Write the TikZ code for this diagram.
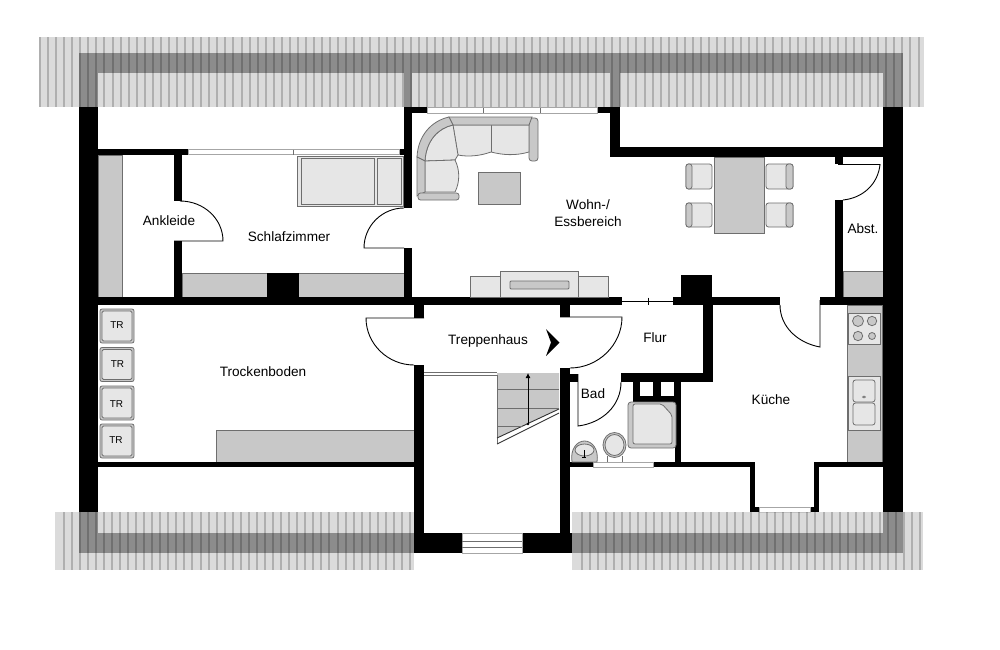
\documentclass[tikz,border=0pt]{standalone}
\usepackage{fontspec}
\setmainfont{Liberation Sans}
\usetikzlibrary{arrows.meta}
\definecolor{cab}{HTML}{C8C8C8}
\definecolor{lite}{HTML}{E6E6E6}
\definecolor{edge}{HTML}{6E6E6E}
\newcommand{\wl}[4]{\fill[black] (#1,#2) rectangle (#3,#4);}
\newcommand{\fur}[4]{\draw[furn] (#1,#2) rectangle (#3,#4);}
\newcommand{\lig}[4]{\draw[furnl] (#1,#2) rectangle (#3,#4);}
\newcommand{\win}[4]{\draw[winbox] (#1,#2) rectangle (#3,#4);}
\newcommand{\roofband}[6]{%
  \fill[roofbase] (#1,#2) rectangle (#3,#4);
  \foreach \sx in {#5,#6,...,#3} {\fill[roofstripe] (\sx-1,#2) rectangle (\sx+1,#4);}}
\tikzset{
  furn/.style={draw=edge,fill=cab,line width=0.8pt},
  furnl/.style={draw=edge,fill=lite,line width=0.8pt},
  winbox/.style={draw=gray!70,fill=white,line width=0.7pt},
  doorline/.style={draw=black,line width=0.9pt},
  thinline/.style={draw=edge,line width=0.8pt},
  roofbase/.style={fill={rgb,1:red,0.8;green,0.8;blue,0.8},fill opacity=0.69},
  roofstripe/.style={fill=black,fill opacity=0.2},
  lab/.style={font=\fontsize{13.6}{16.5}\selectfont,inner sep=0pt,align=center,text=black},
  trlab/.style={font=\fontsize{10}{12}\selectfont,inner sep=0pt,text=black}
}
\begin{document}
\begin{tikzpicture}[x=1pt,y=-1pt]
\useasboundingbox (0,0) rectangle (1000,649);
\fill[white] (0,0) rectangle (1000,649);

% --- fittings under the walls
\fur{98}{155}{122.5}{297}
\fur{182}{273}{404}{297}
\fur{843}{271}{883}{297}
\fur{216}{430}{414}{462}
\fur{847}{305}{882}{462}

% --- walls
\wl{79}{53}{903}{73}
\wl{79}{53}{98}{553}
\wl{883}{53}{903}{553}
\wl{79}{533}{462}{553}
\wl{522}{533}{903}{553}
\wl{404}{73}{412}{208}
\wl{404}{248}{412}{297}
\wl{412}{107}{427}{113}
\wl{597}{107}{610}{113}
\wl{610}{73}{620}{157}
\wl{610}{147}{883}{157}
\wl{98}{149}{188}{155}
\wl{399}{149}{404}{155}
\wl{98}{297}{622}{305}
\wl{673}{297}{780}{305}
\wl{820}{297}{883}{305}
\wl{681}{275}{712}{297}
\wl{267}{273}{299}{297}
\wl{174}{155}{182}{201}
\wl{174}{241}{182}{297}
\wl{834.5}{157}{843}{164}
\wl{834.5}{200}{843}{297}
\wl{414}{305}{424}{318}
\wl{414}{365}{424}{533}
\wl{560}{305}{570}{317}
\wl{560}{368}{570}{533}
\wl{570}{374}{578}{382}
\wl{621}{373}{713}{382}
\wl{703}{305}{713}{373}
\wl{633}{382}{640}{402}
\wl{653}{382}{661}{396}
\wl{633}{396}{680.5}{402}
\wl{674}{382}{680.5}{402}
\wl{675}{402}{680.5}{467}
\wl{570}{462}{593}{467}
\wl{653}{462}{755}{467}
\wl{750}{467}{755}{512}
\wl{814}{462}{819}{512}
\wl{750}{507}{759}{512}
\wl{810}{507}{819}{512}
\wl{814}{462}{883}{467}
\wl{98}{462}{414}{467}

% --- windows
\win{188}{149.5}{399}{154.5}
\draw[thinline] (293,149.5) -- (293,154.5);
\win{427}{107.5}{597}{113}
\draw[thinline] (483,107.5) -- (483,113) (540,107.5) -- (540,113);
\win{593}{462.5}{653}{467}
\win{759}{507.5}{810}{512}
\win{462}{533.5}{522}{553}
\draw[thinline] (462,541.5) -- (522,541.5) (462,547) -- (522,547);
\draw[line width=0.9pt] (622,301) -- (673,301) (648,297.5) -- (648,304.5);

% --- doors
\draw[doorline] (174,241) -- (223,241) .. controls (223,219) and (204,201) .. (180,201);
\draw[doorline] (404,248) -- (364,248) .. controls (364,226) and (382,208) .. (404,208);
\draw[doorline] (424,318) -- (366,318) .. controls (366,344) and (388,365) .. (414,365);
\draw[doorline] (560,317) -- (622,317) .. controls (622,345) and (598,368) .. (570,368);
\draw[doorline] (578,374) -- (578,426) .. controls (602,423) and (621,406) .. (621,382);
\draw[doorline] (820,300) -- (820,347) .. controls (798,343) and (780,327) .. (780,305);
\draw[doorline] (838,164.5) -- (880,164.5) .. controls (878,184) and (863,198) .. (843,200);

% --- sofa
\draw[furn,rounded corners=3pt] (529,118) -- (538,118) -- (538,161) -- (529,161) -- cycle;
\draw[furnl] (453,125) -- (529,125) -- (529,152) .. controls (515,156) and (503,155) .. (491,152) .. controls (480,156) and (468,157) .. (458,155) -- cycle;
\draw[thinline] (491,125) -- (491,152);
\draw[furnl] (425,161) .. controls (426,141) and (438,128) .. (453,125) -- (458,155) -- (455,160) -- cycle;
\draw[furnl] (425,161) -- (455,160) .. controls (460,170) and (460,182) .. (455,192) -- (425,192) -- cycle;
\draw[furn] (449,117) -- (532,117) -- (529,125) -- (453,125) -- cycle;
\draw[furn] (449,117) .. controls (431,121) and (418,136) .. (417,157) -- (425,161) .. controls (426,141) and (438,128) .. (453,125) -- cycle;
\draw[furn] (417,157) -- (425,161) -- (425,192) -- (417,196) -- cycle;
\draw[furn,rounded corners=2.5pt] (418,193) rectangle (459,200);
\fur{478}{172}{520}{204}

% --- TV unit
\lig{470}{276}{500}{297}
\lig{578}{276}{608}{297}
\lig{500}{271}{578}{297}
\draw[furn,rounded corners=1pt] (510,281) rectangle (569,289);

% --- dining table
\newcommand{\chairL}[2]{%
  \draw[furnl,rounded corners=2.5pt] (686,#1) rectangle (712,#2);
  \draw[furn,rounded corners=2.5pt] (692,#1) -- (686,#1) -- (686,#2) -- (692,#2) -- cycle;
  \draw[furnl,rounded corners=2.5pt] (766,#1) rectangle (793,#2);
  \draw[furn,rounded corners=2.5pt] (786,#1) -- (793,#1) -- (793,#2) -- (786,#2) -- cycle;}
\chairL{164}{189}
\chairL{203}{227}
\fur{714}{157}{764}{233}

% --- bed
\draw[furnl] (297,156) rectangle (403,206);
\draw[furnl] (301,158) rectangle (374,204);
\draw[furnl] (377,158) rectangle (401,204);

% --- dryers
\foreach \ty/\nm in {309/a,347.5/b,386/c,424/d}{
  \draw[furn,rounded corners=2pt] (100,\ty) rectangle (134,\ty+34);
  \draw[furnl,rounded corners=1.5pt] (102,\ty+2) rectangle (132,\ty+32);
}
\node[trlab] (tr1) at (117,325) {TR};
\node[trlab] (tr2) at (117.5,364) {TR};
\node[trlab] (tr3) at (116.5,404) {TR};
\node[trlab] (tr4) at (116,440) {TR};

% --- kitchen
\draw[furnl,line width=0.6pt] (848,313) rectangle (880,344);
\draw[furn] (858,321) circle (5.5);
\draw[furn] (872,321) circle (4.7);
\draw[furn] (858,336) circle (4.7);
\draw[furn] (872,336) circle (3.5);
\draw[furnl,line width=0.6pt] (848,376) rectangle (880,430);
\draw[furnl,rounded corners=2.5pt] (853,380) rectangle (875,402);
\draw[furnl,rounded corners=2.5pt] (853,403) rectangle (875,425);
\draw[furn,line width=0.6pt] (864,397) ellipse (1.6 and 1);

% --- stairs
\fill[cab] (497,373) -- (559,373) -- (559,409) -- (497,438) -- cycle;
\draw[thinline] (497,375) -- (497,444);
\draw[line width=0.9pt,draw=black!80] (497,438) -- (559,409) (497,444) -- (559,413);
\draw[thinline] (497,389.5) -- (559,389.5) (497,408) -- (559,408) (497,426) -- (522,426);
\draw[thinline] (424,372.5) -- (497,372.5) (424,375) -- (497,375);
\draw[line width=0.8pt,-{Latex[length=5pt,width=5pt]}] (528,424) -- (528,373);
\fill (528,424) circle (1.4);
\fill (546,329) -- (559.5,342.5) -- (546,356) -- (551,342.5) -- cycle;

% --- bathroom
\draw[furn,rounded corners=3pt] (628,402) rectangle (676,448);
\draw[furnl,rounded corners=2pt] (633,404) -- (662,404) -- (672,415) -- (672,444) -- (633,444) -- cycle;
\draw[furn] (614.5,445) ellipse (11.5 and 12.5);
\draw[furnl] (614.5,445) ellipse (9.5 and 10.5);
\draw[thinline] (607,456) -- (607,462) (622,456) -- (622,462);
\draw[furn] (572,462) .. controls (570,449) and (577,441) .. (584.5,441) .. controls (592,441) and (599,449) .. (597,462) -- cycle;
\draw[furnl] (584.5,450) ellipse (9.5 and 6);
\draw[line width=0.7pt] (584,450) -- (584,457) (582,457) -- (586,457);

% --- roofs (they lie over the walls)
\roofband{39}{37}{924}{107}{40}{48.06}
\roofband{55}{512}{414}{570}{63.5}{71.56}
\roofband{572}{512}{923}{570}{581.7}{589.76}

% --- labels
\node[lab] (ankleide) at (169,221) {Ankleide};
\node[lab] (schlaf) at (289,237) {Schlafzimmer};
\node[lab] (wohn) at (588,213) {Wohn-/\\Essbereich};
\node[lab] (abst) at (863,229) {Abst.};
\node[lab] (trepp) at (488,341) {Treppenhaus};
\node[lab] (flur) at (655,338) {Flur};
\node[lab] (bad) at (593,394) {Bad};
\node[lab] (kueche) at (771,400) {Küche};
\node[lab] (trocken) at (263,372) {Trockenboden};
\end{tikzpicture}
\end{document}
